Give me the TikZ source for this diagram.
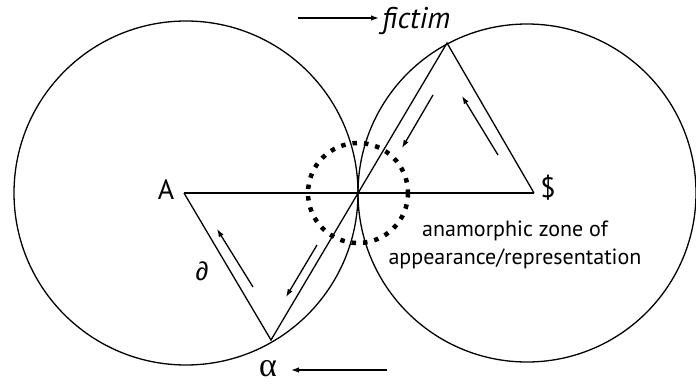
\documentclass[tikz,border=0pt]{standalone}
\usepackage{fontspec}
\setmainfont{PT Sans}
\newfontfamily\serifgreek{Liberation Serif}
\newfontfamily\symfont{Liberation Sans}
\usetikzlibrary{arrows.meta}
\tikzset{
  ln/.style={line width=1.3pt, line join=miter},
  arr/.style={line width=1.3pt, -{Latex[length=8pt,width=5.5pt]}},
  dotring/.style={line width=4.5pt, dash pattern=on 4.5pt off 7pt},
  lbl/.style={inner sep=0pt, font=\fontsize{28}{32}\selectfont},
  small/.style={inner sep=0pt, align=center, font=\fontsize{22}{28}\selectfont}
}
\begin{document}
\begin{tikzpicture}[x=1pt,y=-1pt]
\useasboundingbox (0,0) rectangle (696,383);
% key points
\coordinate (T) at (358,193);
\coordinate (L) at (186,193);
\coordinate (R) at (527,193);
\coordinate (A) at (184,193);
\coordinate (D) at (534,193);
\coordinate (P) at (447,43);
\coordinate (Q) at (271,340);
% circles
\draw[ln] (L) circle[radius=172];
\draw[ln] (R) circle[radius=169];
\draw[dotring] (T) circle[radius=50];
% triangles and lines
\draw[ln] (A) -- (D);
\draw[ln] (A) -- (Q) -- (P) -- (D);
% arrows
\coordinate (f1) at (298,18); \coordinate (f2) at (379,18);
\coordinate (a1) at (387,370); \coordinate (a2) at (291,370);
\coordinate (m1) at (433,95); \coordinate (m2) at (402,148);
\coordinate (n1) at (317,245); \coordinate (n2) at (286,297);
\coordinate (l1) at (253,287); \coordinate (l2) at (217,229);
\coordinate (r1) at (498,155); \coordinate (r2) at (462,96);
\draw[arr] (f1) -- (f2);
\draw[arr] (a1) -- (a2);
\draw[arr] (m1) -- (m2);
\draw[arr] (n1) -- (n2);
\draw[arr] (l1) -- (l2);
\draw[arr] (r1) -- (r2);
% labels
\node[lbl, anchor=base west] (fic) at (382,28) {\fontsize{30}{32}\selectfont\itshape fictim};
\node[lbl] (al) at (268,369) {\serifgreek\fontsize{34}{36}\selectfont α};
\node[lbl] (Al) at (166,190) {A};
\node[lbl] (Dl) at (548,188) {\$};
\node[lbl] (pl) at (202,271) {\symfont\fontsize{26}{28}\selectfont ∂};
\node[small] (zone) at (515,245) {anamorphic zone of\\appearance/representation};
\end{tikzpicture}
\end{document}
